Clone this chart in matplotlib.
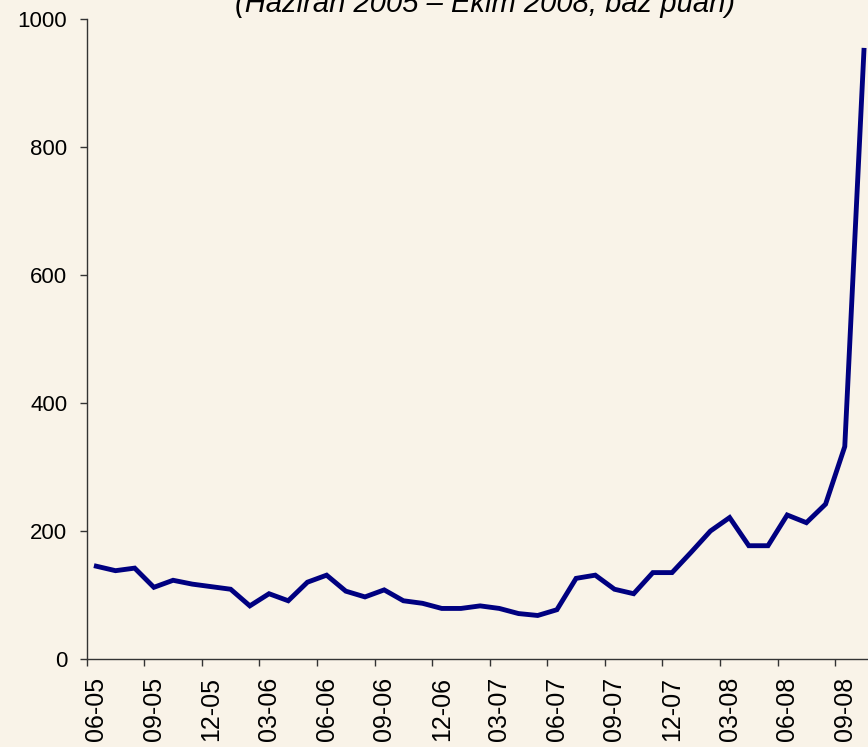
import matplotlib
matplotlib.use('Agg')
import matplotlib.pyplot as plt
import pandas as pd

# aylik veri: Haziran 2005 - Ekim 2008 (baz puan)
months = pd.date_range('2005-06-01', '2008-10-01', freq='MS').strftime('%m-%y').tolist()
values = [145, 138, 142, 112, 123, 117, 113, 109, 83, 102,
          91, 120, 131, 106, 97, 108, 91, 87, 79, 79,
          83, 79, 71, 68, 77, 126, 131, 109, 102, 135,
          135, 167, 200, 221, 177, 177, 225, 213, 242, 332,
          951]

bg = '#F9F3E8'
plt.rcParams['font.family'] = ['Liberation Sans', 'DejaVu Sans']

fig = plt.figure(figsize=(8.68, 7.47), dpi=100, facecolor=bg)
ax = fig.add_axes([0.0999, 0.1178, 0.9065, 0.8568], facecolor=bg)

x = list(range(len(values)))
ax.plot(x, values, color='#000080', linewidth=3.5, solid_joinstyle='miter')

ax.set_xlim(-0.5, len(values) - 0.5)
ax.set_ylim(0, 1000)
ax.set_yticks(range(0, 1001, 200))

# etiketler her 3 ayda bir, tik cizgileri kategori sinirlarinda
ax.set_xticks(x[::3])
ax.set_xticklabels(months[::3], rotation=90)
ax.set_xticks([i - 0.5 for i in x[::3]], minor=True)
ax.tick_params(axis='x', which='major', length=0, pad=13, labelsize=18)
ax.tick_params(axis='x', which='minor', length=5, width=1, direction='out', color='#333333')
ax.tick_params(axis='y', length=5, width=1, pad=9, labelsize=16, color='#333333')

for s in ['top', 'right']:
    ax.spines[s].set_visible(False)
for s in ['left', 'bottom']:
    ax.spines[s].set_color('#333333')
    ax.spines[s].set_linewidth(1)

fig.text(0.559, 1 - 12 / 747, '(Haziran 2005 – Ekim 2008, baz puan)',
         ha='center', va='baseline', fontsize=21, style='italic')

plt.savefig('out.png', dpi=100, facecolor=bg)
